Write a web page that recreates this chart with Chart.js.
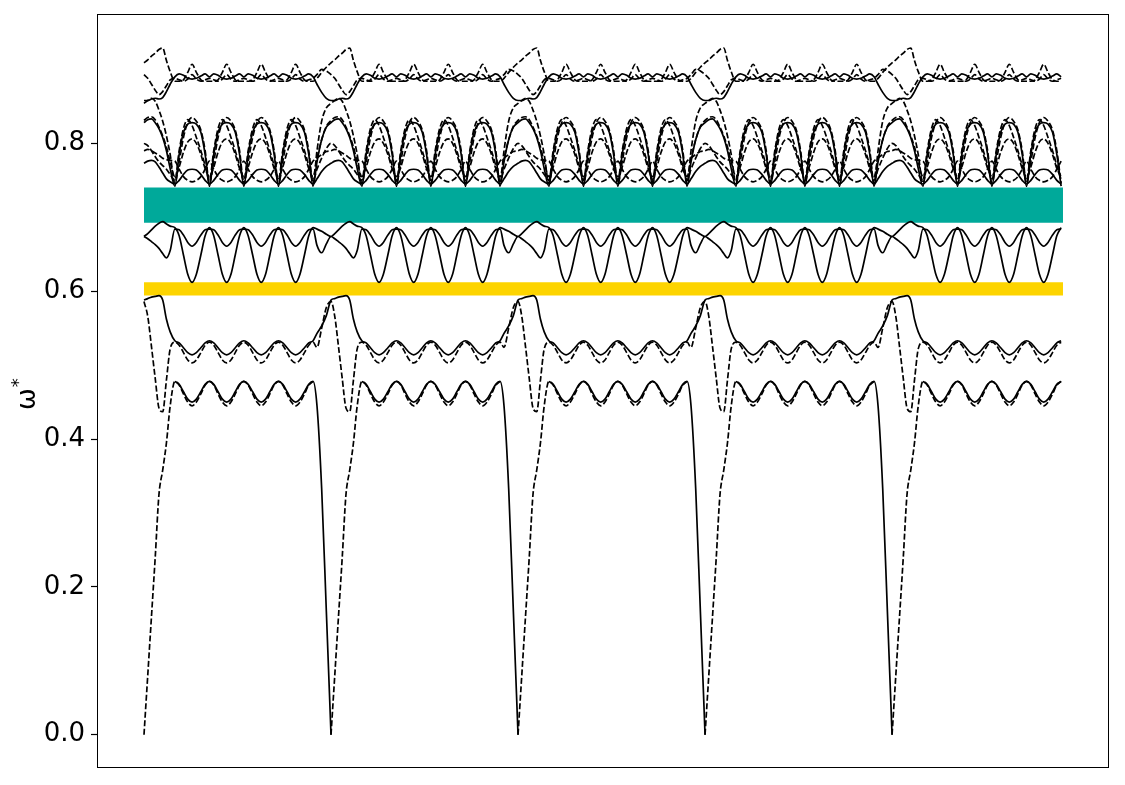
<!DOCTYPE html>
<html>
<head>
<meta charset="utf-8">
<script src="https://cdn.jsdelivr.net/npm/chart.js@4.4.0/dist/chart.umd.min.js"></script>
<style>
  html, body { margin: 0; padding: 0; background: #fff; }
</style>
</head>
<body>
<canvas id="c" width="1125" height="785"></canvas>
<script>
// path coordinate: one unit = one repeat of the diagram, 0 = the low point
const periods = 5;
const pathEnd = 4.914;

// sample positions inside one repeat
const kinkInU = [0, 0.02, 0.04, 0.06, 0.08, 0.10, 0.12, 0.14];
const oscU = [0.165, 0.188, 0.211, 0.234, 0.257, 0.280, 0.304, 0.327,
              0.350, 0.373, 0.396, 0.419, 0.442, 0.465, 0.488, 0.511,
              0.534, 0.557, 0.581, 0.604, 0.627, 0.650, 0.673, 0.696,
              0.719, 0.742, 0.765, 0.788, 0.811, 0.834, 0.858, 0.881, 0.904];
const kinkOutU = [0.925, 0.95, 0.975];

const yTicks = [0, 0.2, 0.4, 0.6, 0.8];
const tealBand = [0.6927, 0.7404];
const yellowBand = [0.5943, 0.6120];

// each band: values near the low point, one ripple cycle (x4), values before the next low point
const lowDashIn = [0, 0.08, 0.16, 0.24, 0.325, 0.358, 0.395, 0.445];
const lowDashCyc = [0.478, 0.473, 0.461, 0.450, 0.445, 0.450, 0.461, 0.473];
const lowDashOut = [null, null, null];

const lowSolidIn = [0, null, null, null, null, null, null, null];
const lowSolidCyc = [0.478, 0.474, 0.464, 0.454, 0.450, 0.454, 0.464, 0.474];
const lowSolidOut = [0.445, 0.333, 0.167];

const upSolidIn = [0.588, 0.590, 0.592, 0.593, 0.594, 0.588, 0.562, 0.545];
const upSolidCyc = [0.533, 0.530, 0.5235, 0.517, 0.514, 0.517, 0.5235, 0.530];
const upSolidOut = [0.543, 0.553, 0.567];

const upDashIn = [0.586, 0.566, 0.525, 0.482, 0.442, 0.437, 0.480, 0.522];
const upDashCyc = [0.531, 0.527, 0.517, 0.507, 0.503, 0.507, 0.517, 0.527];
const upDashOut = [0.524, 0.550, 0.578];

const midDeepIn = [0.674, 0.678, 0.683, 0.688, 0.692, 0.694, 0.691, 0.688];
const midDeepCyc = [0.686, 0.675, 0.649, 0.623, 0.612, 0.623, 0.649, 0.675];
const midDeepOut = [0.684, 0.681, 0.677];

const midFlatIn = [0.674, 0.671, 0.667, 0.663, 0.658, 0.651, 0.645, 0.655];
const midFlatCyc = [0.684, 0.683, 0.676, 0.666, 0.661, 0.666, 0.676, 0.683];
const midFlatOut = [0.662, 0.652, 0.664];

const topAIn = [0.909, 0.913, 0.918, 0.922, 0.927, 0.929, 0.912, 0.897];
const topACyc = [0.884, 0.884, 0.886, 0.896, 0.907, 0.896, 0.886, 0.884];
const topAOut = [0.888, 0.896, 0.903];

const topBIn = [0.858, 0.858, 0.860, 0.861, 0.860, 0.862, 0.870, 0.880];
const topBCyc = [0.890, 0.894, 0.892, 0.888, 0.887, 0.888, 0.891, 0.894];
const topBOut = [0.880, 0.869, 0.861];

const topCIn = [0.893, 0.888, 0.880, 0.872, 0.866, 0.870, 0.878, 0.886];
const topCCyc = [0.888, 0.886, 0.884, 0.887, 0.893, 0.887, 0.884, 0.886];
const topCOut = [0.893, 0.900, 0.898];

const bigSolidIn = [0.828, 0.832, 0.833, 0.828, 0.820, 0.808, 0.790, 0.766];
const bigSolidCyc = [0.742, 0.785, 0.815, 0.826, 0.828, 0.826, 0.815, 0.785];
const bigSolidOut = [0.775, 0.805, 0.822];

const bigDashAIn = [0.854, 0.858, 0.861, 0.857, 0.845, 0.830, 0.810, 0.785];
const bigDashACyc = [0.746, 0.775, 0.808, 0.828, 0.835, 0.830, 0.818, 0.790];
const bigDashAOut = [0.790, 0.830, 0.848];

const bigDashBIn = [0.831, 0.835, 0.836, 0.832, 0.822, 0.810, 0.795, 0.775];
const bigDashBCyc = [0.755, 0.768, 0.788, 0.802, 0.806, 0.800, 0.785, 0.766];
const bigDashBOut = [0.780, 0.805, 0.823];

const bigDashCIn = [0.800, 0.797, 0.790, 0.782, 0.775, 0.770, 0.765, 0.758];
const bigDashCCyc = [0.750, 0.790, 0.820, 0.832, 0.824, 0.808, 0.790, 0.770];
const bigDashCOut = [0.765, 0.780, 0.793];

const rippleSolidIn = [0.773, 0.776, 0.777, 0.775, 0.768, 0.760, 0.752, 0.748];
const rippleSolidCyc = [0.745, 0.750, 0.758, 0.764, 0.765, 0.764, 0.758, 0.750];
const rippleSolidOut = [0.752, 0.762, 0.769];

const rippleDashIn = [0.790, 0.792, 0.790, 0.787, 0.784, 0.780, 0.778, 0.777];
const rippleDashCyc = [0.776, 0.765, 0.755, 0.750, 0.748, 0.750, 0.755, 0.765];
const rippleDashOut = [0.780, 0.785, 0.789];

const bands = [
  [lowDashIn, lowDashCyc, lowDashOut, true],
  [lowSolidIn, lowSolidCyc, lowSolidOut, false],
  [upDashIn, upDashCyc, upDashOut, true],
  [upSolidIn, upSolidCyc, upSolidOut, false],
  [midDeepIn, midDeepCyc, midDeepOut, false],
  [midFlatIn, midFlatCyc, midFlatOut, false],
  [topAIn, topACyc, topAOut, true],
  [topCIn, topCCyc, topCOut, true],
  [topBIn, topBCyc, topBOut, false],
  [bigDashAIn, bigDashACyc, bigDashAOut, true],
  [bigDashBIn, bigDashBCyc, bigDashBOut, true],
  [bigDashCIn, bigDashCCyc, bigDashCOut, true],
  [rippleDashIn, rippleDashCyc, rippleDashOut, true],
  [bigSolidIn, bigSolidCyc, bigSolidOut, false],
  [rippleSolidIn, rippleSolidCyc, rippleSolidOut, false],
];

const repeatU = [...kinkInU, ...oscU, ...kinkOutU];

function bandPoints(kIn, cyc, kOut) {
  const oscVals = [];
  for (let j = 0; j < oscU.length; j++) oscVals.push(cyc[j % cyc.length]);
  const vals = [...kIn, ...oscVals, ...kOut];
  const pts = [];
  for (let p = 0; p < periods; p++) {
    repeatU.forEach((u, i) => {
      const x = p + u;
      if (x <= pathEnd + 1e-6) pts.push({ x: x, y: vals[i] });
    });
  }
  return pts;
}

const datasets = bands.map(([kIn, cyc, kOut, dashed]) => ({
  data: bandPoints(kIn, cyc, kOut),
  borderColor: '#000',
  borderWidth: 1.7,
  borderDash: dashed ? [6, 2.5] : [],
  pointRadius: 0,
  cubicInterpolationMode: 'monotone',
  spanGaps: false,
  fill: false,
  order: dashed ? 2 : 1,
}));

datasets.push({
  data: [{ x: 0, y: tealBand[1] }, { x: pathEnd, y: tealBand[1] }],
  borderWidth: 0,
  pointRadius: 0,
  backgroundColor: '#00a99a',
  fill: { value: tealBand[0] },
  order: 3,
});
datasets.push({
  data: [{ x: 0, y: yellowBand[1] }, { x: pathEnd, y: yellowBand[1] }],
  borderWidth: 0,
  pointRadius: 0,
  backgroundColor: '#fdd400',
  fill: { value: yellowBand[0] },
  order: 3,
});

const frameAndLabel = {
  id: 'frameAndLabel',
  afterDraw(chart) {
    const { ctx, chartArea: a } = chart;
    ctx.save();
    ctx.strokeStyle = '#000';
    ctx.lineWidth = 1;
    ctx.strokeRect(a.left + 0.5, a.top + 0.5, a.right - a.left - 1, a.bottom - a.top - 1);
    ctx.translate(35, 410);
    ctx.rotate(-Math.PI / 2);
    ctx.fillStyle = '#000';
    ctx.textBaseline = 'alphabetic';
    ctx.textAlign = 'left';
    ctx.font = '26px "DejaVu Sans"';
    ctx.fillText('ω', 0, 0);
    const w = ctx.measureText('ω').width;
    ctx.font = '18px "DejaVu Sans"';
    ctx.fillText('*', w + 1, -11);
    ctx.restore();
  }
};

new Chart(document.getElementById('c'), {
  type: 'line',
  data: { datasets },
  options: {
    responsive: false,
    animation: false,
    devicePixelRatio: 1,
    layout: { padding: { left: 0, right: 16, top: 14, bottom: 17 } },
    plugins: { legend: { display: false }, tooltip: { enabled: false } },
    scales: {
      x: {
        type: 'linear',
        min: -0.2513,
        max: 5.160,
        display: false,
      },
      y: {
        type: 'linear',
        min: -0.045,
        max: 0.975,
        afterFit(scale) {
          scale.width = 97;
          scale.paddingTop = 0;
          scale.paddingBottom = 0;
        },
        afterBuildTicks(scale) { scale.ticks = yTicks.map(v => ({ value: v })); },
        border: { display: false },
        grid: {
          drawOnChartArea: false,
          drawTicks: true,
          tickLength: 6,
          tickColor: '#000',
          tickWidth: 1.2,
        },
        ticks: {
          color: '#000',
          padding: 6,
          font: { family: 'DejaVu Sans', size: 26 },
          callback: v => v.toFixed(1),
        },
      },
    },
  },
  plugins: [frameAndLabel],
});
</script>
</body>
</html>
